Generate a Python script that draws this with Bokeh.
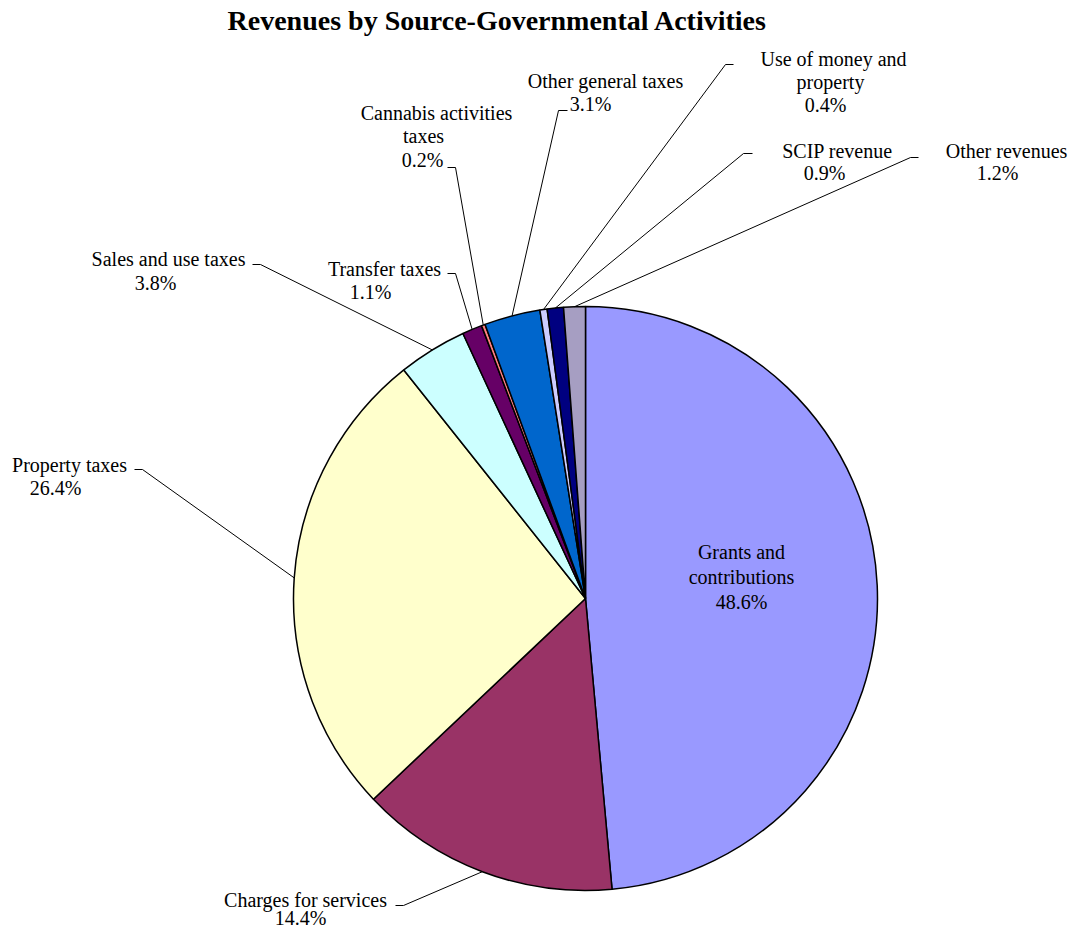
import numpy as np
from bokeh.plotting import figure
from bokeh.models import Range1d, ColumnDataSource
from bokeh.embed import file_html
from bokeh.resources import INLINE
from bokeh.core.properties import value

# ---------------- data ----------------
title_text = "Revenues by Source-Governmental Activities"
categories = ["Grants and contributions", "Charges for services", "Property taxes",
              "Sales and use taxes", "Transfer taxes", "Cannabis activities taxes",
              "Other general taxes", "Use of money and property", "SCIP revenue",
              "Other revenues"]
shares = [48.6, 14.4, 26.4, 3.8, 1.1, 0.2, 3.1, 0.4, 0.9, 1.2]
name_lines = [["Grants and", "contributions"], ["Charges for services"], ["Property taxes"],
              ["Sales and use taxes"], ["Transfer taxes"], ["Cannabis activities", "taxes"],
              ["Other general taxes"], ["Use of money and", "property"], ["SCIP revenue"],
              ["Other revenues"]]
colors = ["#9999FF", "#993366", "#FFFFCC", "#CCFFFF", "#660066", "#FF8080",
          "#0066CC", "#CCCCFF", "#000080", "#A69EC2"]

# ---------------- layout (picture pixel coordinates) ----------------
CX, CY, R = 585, 598, 292
label_pos = [
    [(741, 551), (741, 576), (741, 601)],
    [(305, 899), (300, 917)],
    [(69, 464), (55, 487)],
    [(168, 258), (155, 282)],
    [(384, 268), (370, 291)],
    [(436, 112), (423, 135), (422, 159)],
    [(605, 80), (590, 103)],
    [(833, 58), (830, 81), (825, 104)],
    [(837, 150), (824, 172)],
    [(1006, 150), (997, 172)],
]
leaders = [None, (395, 403, 905), (134, 142, 469), (252, 260, 264), (447, 455, 273),
           (447, 455, 167), (567, 558, 110), (733, 725, 64), (752, 743, 153),
           (918, 910, 157)]

W, H = 1073, 927
p = figure(width=W, height=H, x_range=Range1d(0, W), y_range=Range1d(-H, 0),
           x_axis_type=None, y_axis_type=None, toolbar_location=None,
           output_backend="svg", min_border=0, outline_line_color=None)
p.grid.visible = False
p.background_fill_color = "white"

vals = np.array(shares, dtype=float)
frac = vals / vals.sum()
cum = np.cumsum(frac)
start = np.pi / 2 - 2 * np.pi * (cum - frac)
end = np.pi / 2 - 2 * np.pi * cum
mid = np.pi / 2 - 2 * np.pi * (cum - frac / 2)

src = ColumnDataSource(dict(x=[CX] * len(vals), y=[-CY] * len(vals), start=start, end=end,
                            color=colors, name=categories))
p.wedge(x="x", y="y", radius=R, start_angle="start", end_angle="end", direction="clock",
        fill_color="color", line_color="black", line_width=1.5, source=src)

xs, ys = [], []
for i, ld in enumerate(leaders):
    if ld is None:
        continue
    ex = CX + R * np.cos(mid[i])
    ey = -CY + R * np.sin(mid[i])
    xs.append([ld[0], ld[1], ex])
    ys.append([-ld[2], -ld[2], ey])
p.multi_line(xs=xs, ys=ys, line_color="black", line_width=1)

tx, ty, tt = [], [], []
for i, lines in enumerate(name_lines):
    texts = lines + [f"{shares[i]:.1f}%"]
    for (lx, lyy), t in zip(label_pos[i], texts):
        tx.append(lx)
        ty.append(-lyy)
        tt.append(t)
p.text(x=tx, y=ty, text=tt, text_align="center", text_baseline="middle",
       text_font=value("Liberation Serif"), text_font_size="20px", text_color="black")

p.text(x=[497], y=[-20], text=[title_text], text_align="center", text_baseline="middle",
       text_font=value("Liberation Serif"), text_font_size="28px", text_font_style="bold",
       text_color="black")

open("out.html", "w").write(file_html(p, INLINE))
